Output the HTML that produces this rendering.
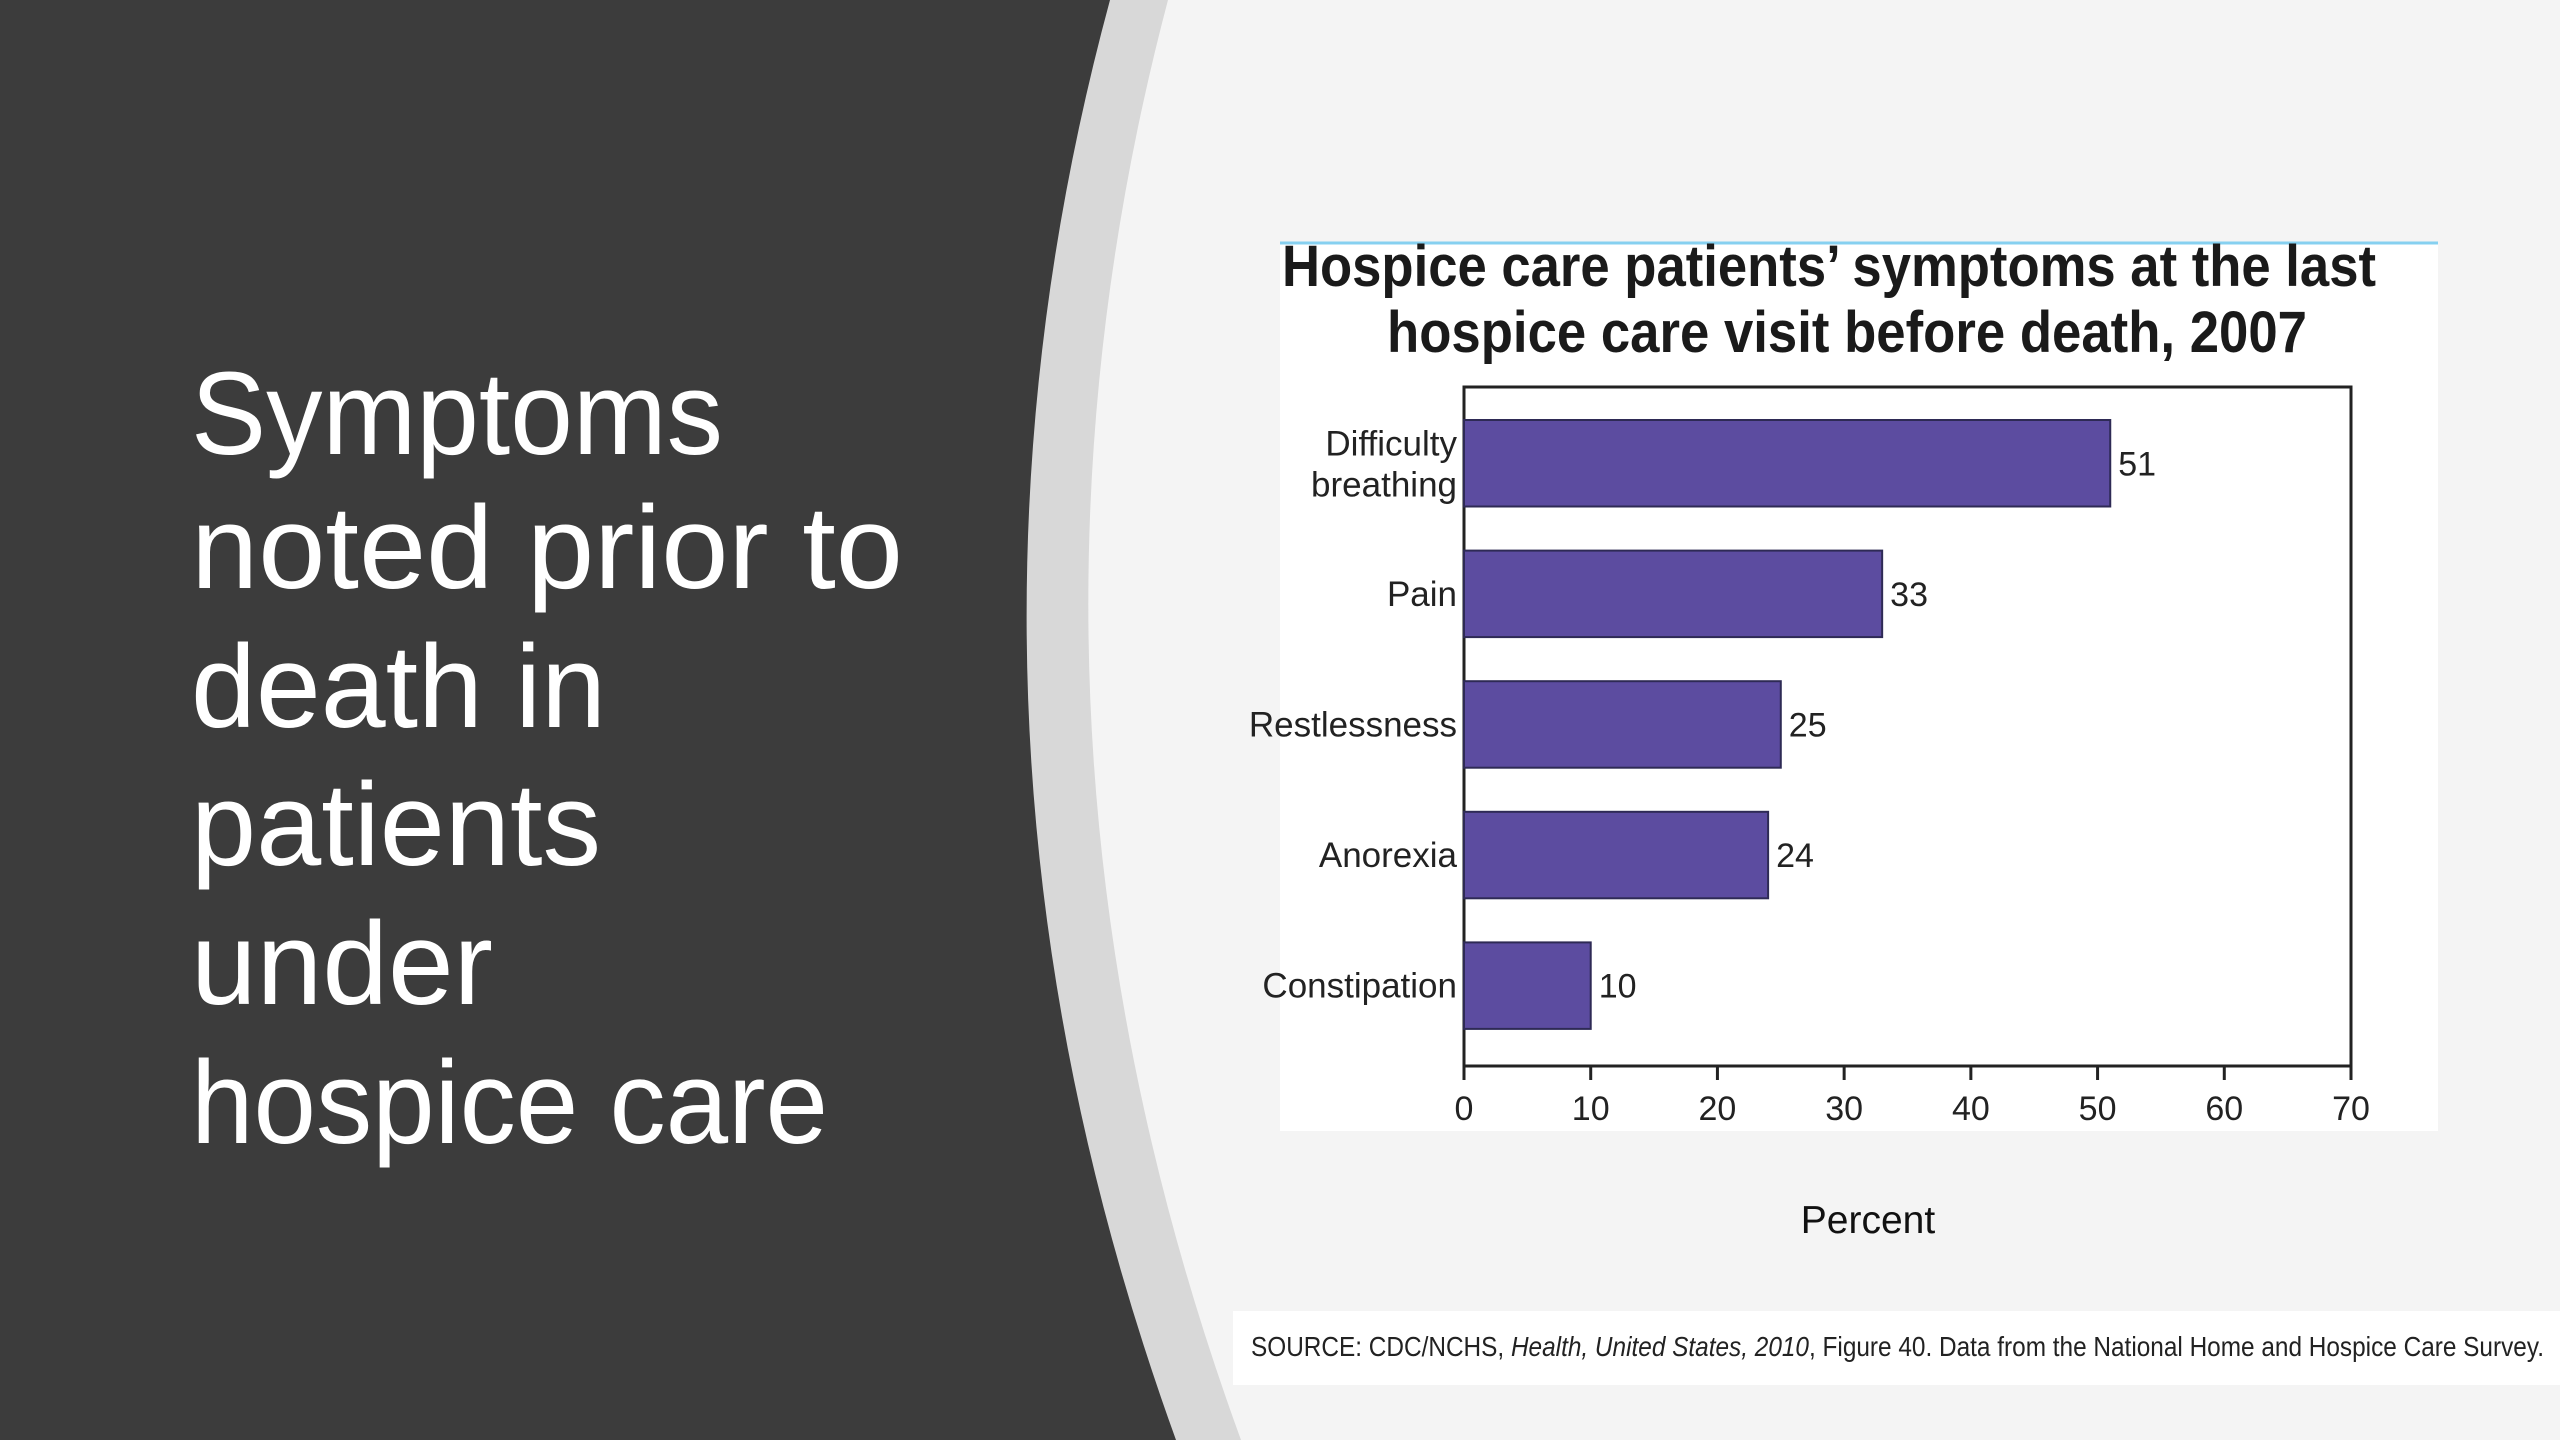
<!DOCTYPE html>
<html><head><meta charset="utf-8"><style>
html,body{margin:0;padding:0;width:2560px;height:1440px;overflow:hidden;background:#f4f4f4}
svg text{font-family:"Liberation Sans",sans-serif}
</style></head><body>
<svg width="2560" height="1440" viewBox="0 0 2560 1440">
<rect x="0" y="0" width="2560" height="1440" fill="#f4f4f4"/>
<path d="M0,0 L1168,0 Q978,720 1241,1440 L0,1440 Z" fill="#d8d8d8"/>
<path d="M0,0 L1110,0 Q915,720 1176,1440 L0,1440 Z" fill="#3c3c3c"/>
<g fill="#ffffff" font-size="118">
<text x="191" y="454" textLength="532" lengthAdjust="spacingAndGlyphs">Symptoms</text>
<text x="191" y="588" textLength="712" lengthAdjust="spacingAndGlyphs">noted prior to</text>
<text x="191" y="727" textLength="415" lengthAdjust="spacingAndGlyphs">death in</text>
<text x="191" y="865" textLength="410" lengthAdjust="spacingAndGlyphs">patients</text>
<text x="191" y="1004" textLength="302" lengthAdjust="spacingAndGlyphs">under</text>
<text x="191" y="1143" textLength="637" lengthAdjust="spacingAndGlyphs">hospice care</text>
</g>
<rect x="1280" y="242" width="1158" height="889" fill="#ffffff"/>
<line x1="1280" y1="243" x2="2438" y2="243" stroke="#86d0f0" stroke-width="3"/>
<g font-weight="bold" font-size="58" fill="#1a1a1a" text-anchor="middle">
<text x="1829" y="286" textLength="1094" lengthAdjust="spacingAndGlyphs">Hospice care patients’ symptoms at the last</text>
<text x="1847" y="352" textLength="920" lengthAdjust="spacingAndGlyphs">hospice care visit before death, 2007</text>
</g>
<g id="chart"></g>
<text x="1868" y="1233" font-size="39" fill="#111" text-anchor="middle">Percent</text>
<rect x="1233" y="1311" width="1327" height="74" fill="#ffffff"/>
<text x="1251" y="1356" font-size="28" fill="#222" textLength="1293" lengthAdjust="spacingAndGlyphs">SOURCE: CDC/NCHS, <tspan font-style="italic">Health, United States, 2010</tspan>, Figure 40. Data from the National Home and Hospice Care Survey.</text>
</svg>
<script>
const categories = ["Difficulty breathing","Pain","Restlessness","Anorexia","Constipation"];
const values = [51,33,25,24,10];
const valueLabels = ["51","33","25","24","10"];
const ticks = [0,10,20,30,40,50,60,70];

const NS="http://www.w3.org/2000/svg";
const g=document.getElementById('chart');
const X0=1464,X1=2351,Y0=387,Y1=1066,XMAX=70;
const xs=v=>X0+(v/XMAX)*(X1-X0);
const band0=420,pitch=130.6,bh=86.5;
const ys=i=>band0+i*pitch;
function mk(tag,attrs){const e=document.createElementNS(NS,tag);for(const k in attrs)e.setAttribute(k,attrs[k]);g.appendChild(e);return e;}
const frame=mk('rect',{x:X0,y:Y0,width:X1-X0,height:Y1-Y0,fill:'none',stroke:'#222','stroke-width':3});


ticks.forEach(t=>{
  const tk=mk('line',{x1:xs(t),x2:xs(t),y1:Y1,y2:Y1+14,stroke:'#222','stroke-width':3});
  
  
  const tl=mk('text',{x:xs(t),y:Y1+54,'font-size':34,fill:'#222','text-anchor':'middle'});
  tl.textContent=t;
  
  
});
categories.forEach((c,i)=>{
  const y=ys(i);
  const b=mk('rect',{x:X0,y:y,width:xs(values[i])-X0,height:bh,fill:'#5c4ca0',stroke:'#2e2a55','stroke-width':2});
  
  
  const vl=mk('text',{x:xs(values[i])+8,y:y+bh/2+12,'font-size':34,fill:'#222'});
  vl.textContent=valueLabels[i];
  
  
  const words=c.split(' ');
  const lines=(words.length>1)?words:[c];
  lines.forEach((w,j)=>{
    const off=lines.length>1?(j===0?-8:33):12;
    const cl=mk('text',{x:X0-7,y:y+bh/2+off,'font-size':35,fill:'#222','text-anchor':'end'});
    cl.textContent=w;
    
    
  });
});
</script>
</body></html>
